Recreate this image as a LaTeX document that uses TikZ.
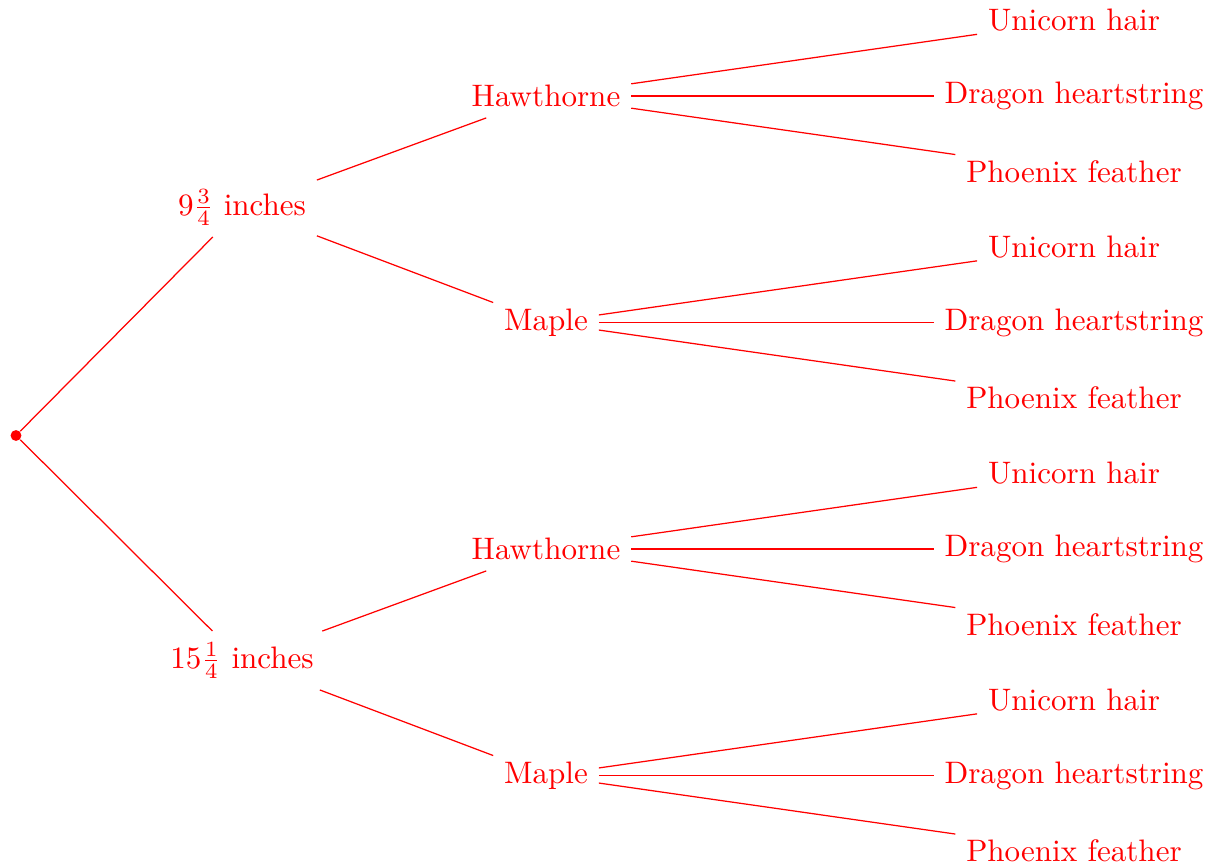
\documentclass[tikz,border=0pt]{standalone}
\usetikzlibrary{positioning}
\begin{document}
\begin{tikzpicture}[x=0.3219pt,y=-0.3219pt,
  every node/.style={text=red},
  branch/.style={draw=red,line width=0.4pt},
  rootdot/.style={circle,fill=red,inner sep=0pt,minimum size=3.5pt}]
\useasboundingbox (0,0) rectangle (1211,867);
% root
\node[rootdot] (r) at (16,435.5) {};
% lengths
\node (l1) at (242,207.5) {$9\frac{3}{4}$ inches};
\node (l2) at (242,660.5) {$15\frac{1}{4}$ inches};
% woods
\node (w1) at (546,96)    {Hawthorne};
\node (w2) at (546,322.5) {Maple};
\node (w3) at (546,549)   {Hawthorne};
\node (w4) at (546,775.5) {Maple};
% cores
\foreach \w in {1,...,4}{
  \pgfmathsetmacro{\yc}{20.5+75.5*3*(\w-1)}
  \node (c\w a) at (1074,\yc)       {Unicorn hair};
  \node (c\w b) at (1074,\yc+75.5)  {Dragon heartstring};
  \node (c\w c) at (1074,\yc+151)   {Phoenix feather};
  \draw[branch] (w\w) -- (c\w a);
  \draw[branch] (w\w) -- (c\w b);
  \draw[branch] (w\w) -- (c\w c);
}
\draw[branch] (r) -- (l1);
\draw[branch] (r) -- (l2);
\draw[branch] (l1) -- (w1);
\draw[branch] (l1) -- (w2);
\draw[branch] (l2) -- (w3);
\draw[branch] (l2) -- (w4);
\end{tikzpicture}
\end{document}
